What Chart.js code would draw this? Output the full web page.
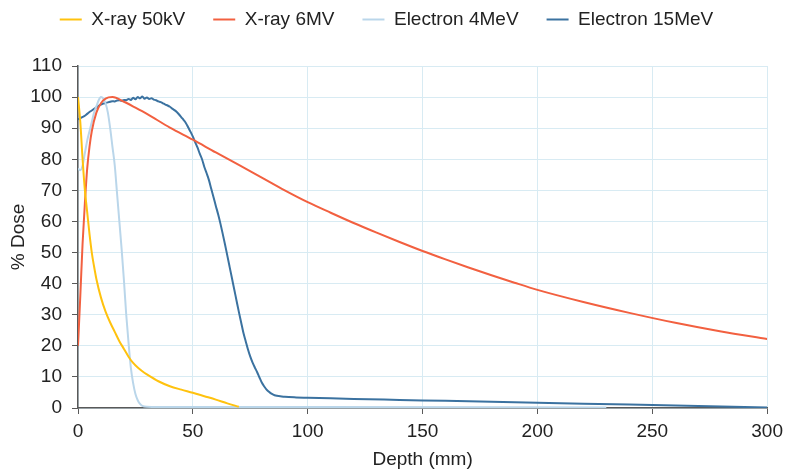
<!DOCTYPE html>
<html>
<head>
<meta charset="utf-8">
<script src="https://cdn.jsdelivr.net/npm/chart.js@4"></script>
<style>
  html, body { margin: 0; padding: 0; background: #fff; }
</style>
</head>
<body>
<canvas id="chart" width="789" height="471"></canvas>
<script>
const seriesNames = ["X-ray 50kV", "X-ray 6MV", "Electron 4MeV", "Electron 15MeV"];

const depth50kV = [0, 1, 2, 3, 4, 5, 6, 7, 8, 10, 12, 14, 16, 18, 20, 22, 24, 26, 28, 30, 35, 40, 45, 50, 55, 60, 65, 70];
const dose50kV = [100, 92, 80, 70, 63, 56, 50, 45.5, 41.5, 35.5, 31, 27.5, 24.5, 21.5, 19, 16.5, 14.5, 13, 11.8, 10.8, 8.6, 7.0, 5.9, 4.9, 3.8, 2.7, 1.5, 0.4];

const depth6MV = [0, 1, 2, 3, 4, 5, 6, 8, 10, 12, 15, 20, 25, 30, 40, 50, 60, 70, 80, 90, 100, 110, 120, 130, 140, 150, 160, 170, 180, 190, 200, 220, 240, 260, 280, 300];
const dose6MV = [20, 36, 53, 66, 77, 84, 89, 95, 98, 99.5, 100, 98.5, 96.6, 94.6, 90.2, 86.3, 82.2, 78.2, 74.1, 70, 66.2, 62.8, 59.5, 56.4, 53.4, 50.5, 47.8, 45.2, 42.7, 40.3, 38, 34.1, 30.6, 27.4, 24.6, 22.2];

const depth4MeV = [0, 1, 2, 3, 4, 5, 6, 7, 8, 9, 10, 11, 12, 13, 14, 15, 16, 17, 18, 19, 20, 21, 22, 23, 24, 25, 26, 27, 28, 30, 40, 100, 230];
const dose4MeV = [77, 76.5, 78, 82, 86, 89, 92, 95, 97, 99, 100, 99.5, 98, 95, 90, 84, 78, 69, 60, 51, 41, 30, 21, 13, 8, 4.5, 2.5, 1.3, 0.7, 0.4, 0.3, 0.3, 0.2];

const depth15MeV = [0, 1, 2, 3, 4, 5, 6, 7, 8, 9, 10, 11, 12, 13, 14, 15, 16, 17, 18, 19, 20, 21, 22, 23, 24, 25, 26, 27, 28, 29, 30, 31, 32, 33, 34, 35, 36, 37, 38, 39, 40, 41, 42, 43, 44, 45, 46, 47, 48, 49, 50, 51, 52, 53, 54, 55, 56, 57, 58, 59, 60, 61, 62, 63, 64, 65, 66, 67, 68, 69, 70, 71, 72, 73, 74, 75, 76, 77, 78, 79, 80, 81, 82, 83, 84, 85, 86, 88, 90, 95, 100, 110, 120, 140, 160, 180, 200, 220, 240, 260, 280, 300];
const dose15MeV = [92.8, 93.2, 93.6, 94.0, 94.6, 95.2, 95.7, 96.2, 96.7, 97.2, 97.6, 97.9, 98.1, 98.3, 98.5, 98.7, 98.6, 98.9, 99.0, 98.8, 99.1, 99.0, 99.4, 99.1, 99.8, 99.3, 100.0, 99.6, 100.2, 99.5, 99.9, 99.4, 99.6, 99.2, 99.0, 98.6, 98.4, 98.0, 97.6, 97.3, 96.9, 96.3, 95.8, 95.2, 94.4, 93.5, 92.6, 91.6, 90.2, 88.8, 87.3, 85.5, 83.8, 81.8, 80.0, 77.5, 75.5, 73.3, 70.5, 67.8, 65.0, 62.3, 59.3, 56.0, 52.6, 49.0, 45.4, 41.8, 38.2, 34.6, 31.0, 27.6, 24.2, 21.5, 18.8, 16.5, 14.6, 13.0, 11.5, 9.8, 8.2, 7.0, 6.0, 5.3, 4.7, 4.3, 4.0, 3.8, 3.6, 3.4, 3.3, 3.1, 2.9, 2.6, 2.3, 2.0, 1.7, 1.4, 1.1, 0.8, 0.5, 0.2];

const xTicksMax = 300;
const yTicksMax = 110;

const colors = ["#FFC20E", "#F26040", "#BAD6EA", "#3B72A0"];

function pairs(xs, ys) {
  return xs.map((x, i) => ({ x: x, y: ys[i] }));
}

const allSeries = [
  pairs(depth50kV, dose50kV),
  pairs(depth6MV, dose6MV),
  pairs(depth4MeV, dose4MeV),
  pairs(depth15MeV, dose15MeV)
];

const fontFamily = "'Liberation Sans', Arial, sans-serif";
const fontSize = 19;
const gridColor = "#d8ebf3";
const axisColor = "#595959";
const textColor = "#222";

// extra room under the legend
const legendMargin = {
  id: "legendMargin",
  beforeInit(chart) {
    const fit = chart.legend.fit;
    chart.legend.fit = function () {
      fit.call(this);
      this.height += 27;
    };
  }
};

new Chart(document.getElementById("chart"), {
  type: "line",
  data: {
    datasets: seriesNames.map((name, i) => ({
      label: name,
      data: allSeries[i],
      borderColor: colors[i],
      backgroundColor: colors[i],
      borderWidth: 2,
      pointRadius: 0,
      pointStyle: "line",
      cubicInterpolationMode: "monotone",
      fill: false
    }))
  },
  plugins: [legendMargin],
  options: {
    responsive: false,
    animation: false,
    layout: { padding: { left: 2, right: 18, top: -18, bottom: 0 } },
    plugins: {
      tooltip: { enabled: false },
      legend: {
        position: "top",
        labels: {
          usePointStyle: true,
          pointStyleWidth: 22,
          color: textColor,
          font: { family: fontFamily, size: fontSize },
          padding: 28
        }
      }
    },
    scales: {
      x: {
        type: "linear",
        min: 0,
        max: xTicksMax,
        afterFit: scale => { scale.height = 63; },
        title: { display: true, text: "Depth (mm)", color: textColor, font: { family: fontFamily, size: fontSize }, padding: { top: 0, bottom: 0 } },
        ticks: { stepSize: 50, color: textColor, font: { family: fontFamily, size: fontSize }, maxRotation: 0, padding: 6 },
        grid: { color: gridColor, tickColor: axisColor, tickLength: 6 },
        border: { color: axisColor, width: 1.5 }
      },
      y: {
        min: 0,
        max: yTicksMax,
        afterFit: scale => { scale.width = 76; },
        title: { display: true, text: "% Dose", color: textColor, font: { family: fontFamily, size: fontSize }, padding: { top: 5, bottom: 2 } },
        ticks: { stepSize: 10, color: textColor, font: { family: fontFamily, size: fontSize }, padding: 10 },
        grid: { color: gridColor, tickColor: axisColor, tickLength: 6 },
        border: { color: axisColor, width: 1.5 }
      }
    }
  }
});
</script>
</body>
</html>
